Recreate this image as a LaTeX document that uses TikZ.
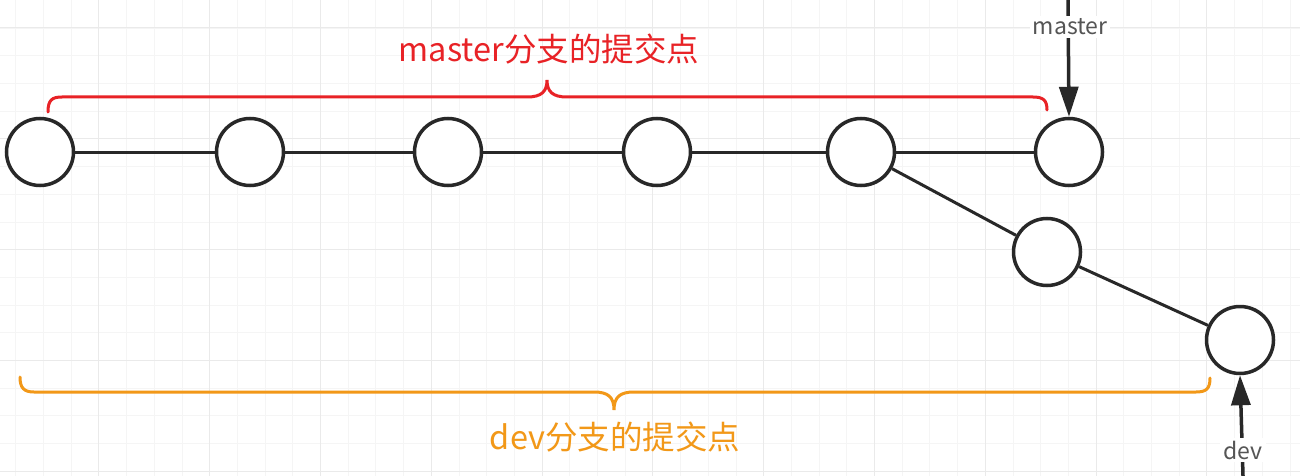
\documentclass[tikz,border=0pt]{standalone}
\usepackage{fontspec}
\setmainfont{Noto Sans CJK SC}
\usetikzlibrary{arrows.meta}
\definecolor{gridminor}{RGB}{245,245,245}
\definecolor{gridmajor}{RGB}{234,234,234}
\definecolor{ink}{RGB}{40,40,40}
\definecolor{bracered}{RGB}{232,34,38}
\definecolor{braceorange}{RGB}{242,152,24}
\definecolor{labelgray}{RGB}{85,85,85}
\tikzset{
  commit/.style={circle, draw=ink, line width=3.5pt, fill=white, minimum size=67pt, inner sep=0pt},
  link/.style={draw=ink, line width=3pt},
  pointer/.style={draw=ink, line width=3.5pt, -{Triangle[length=30pt,width=19pt]}},
  ptrlabel/.style={text=labelgray, font=\fontsize{23}{26}\selectfont, fill=white, inner sep=3pt},
  bracetext/.style={font=\fontsize{32.5}{38}\selectfont},
  bracepath/.style={line width=3pt, line cap=round}
}
\begin{document}
\begin{tikzpicture}[x=1pt,y=-1pt]
\useasboundingbox (0,0) rectangle (1300,476);
\fill[white] (0,0) rectangle (1300,476);
% grid
\foreach \i in {0,...,47} {
  \draw[gridminor, line width=0.8pt] ({-12+\i*27.7},0) -- ({-12+\i*27.7},476);
}
\foreach \i in {0,...,18} {
  \draw[gridminor, line width=0.8pt] (0,{28+\i*27.7}) -- (1300,{28+\i*27.7});
}
\foreach \i in {0,...,11} {
  \draw[gridmajor, line width=1pt] ({-12+\i*110.8},0) -- ({-12+\i*110.8},476);
}
\foreach \i in {0,...,4} {
  \draw[gridmajor, line width=1pt] (0,{28+\i*110.8}) -- (1300,{28+\i*110.8});
}
% commits
\node[commit] (c1) at (40,152) {};
\node[commit] (c2) at (250,152) {};
\node[commit] (c3) at (448,152) {};
\node[commit] (c4) at (657,152) {};
\node[commit] (c5) at (861,152) {};
\node[commit] (c6) at (1069,152) {};
\node[commit] (c7) at (1047,252) {};
\node[commit] (c8) at (1240,340) {};
\draw[link] (c1) -- (c2);
\draw[link] (c2) -- (c3);
\draw[link] (c3) -- (c4);
\draw[link] (c4) -- (c5);
\draw[link] (c5) -- (c6);
\draw[link] (c5) -- (c7);
\draw[link] (c7) -- (c8);
% master pointer
\coordinate (mtop) at (1068,0);
\draw[pointer] (mtop) -- (c6.north);
\node[ptrlabel] (mlabel) at (1070,27) {master};
% dev pointer
\coordinate (dbot) at (1243,476);
\draw[pointer] (dbot) -- (c8.south);
\node[ptrlabel] (dlabel) at (1243,450) {dev};
% red brace
\draw[bracepath, bracered] (48,112) .. controls (48,100) and (52,97) .. (62,97)
  -- (527,97) .. controls (541,97) and (547,92) .. (547,80)
  .. controls (547,92) and (553,97) .. (567,97)
  -- (1033,97) .. controls (1043,97) and (1047,100) .. (1047,110);
\node[bracetext, text=bracered] (mtext) at (549,49) {master分支的提交点};
% orange brace
\draw[bracepath, braceorange] (20,377) .. controls (20,388) and (24,392) .. (34,392)
  -- (594,392) .. controls (608,392) and (614,397) .. (614,410)
  .. controls (614,397) and (620,392) .. (634,392)
  -- (1196,392) .. controls (1206,392) and (1210,389) .. (1210,378);
\node[bracetext, text=braceorange] (dtext) at (615,437) {dev分支的提交点};
\end{tikzpicture}
\end{document}
